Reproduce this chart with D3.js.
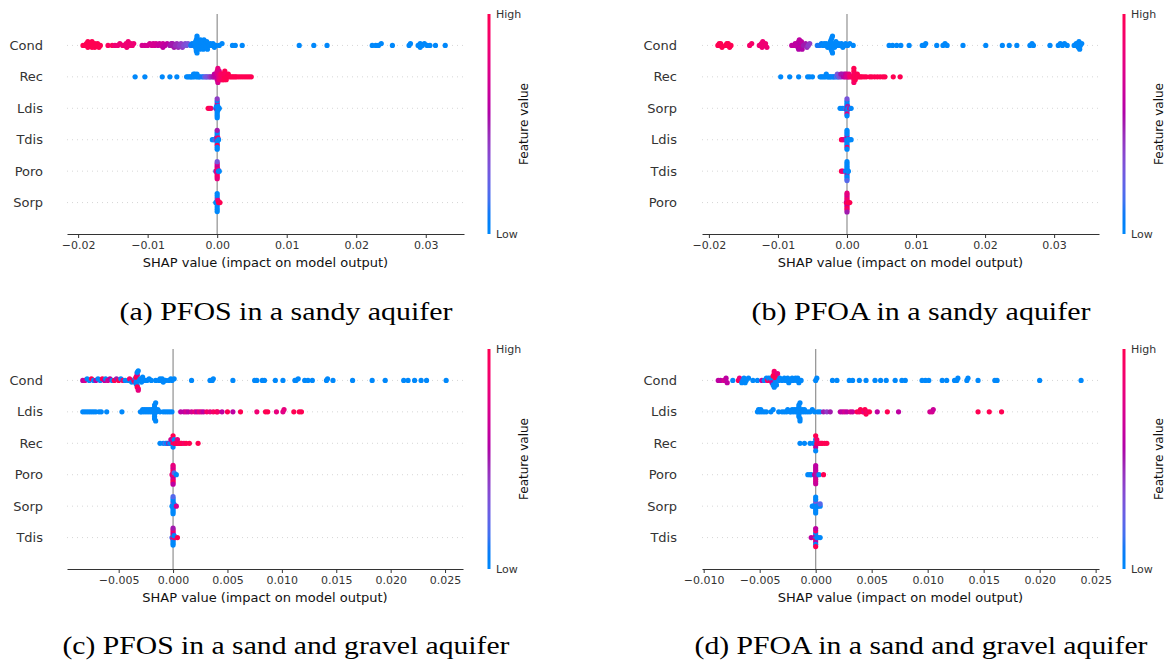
<!DOCTYPE html>
<html>
<head>
<meta charset="utf-8">
<script src="https://cdn.jsdelivr.net/npm/d3@7"></script>
<style>
  body { margin: 0; background: #fff; }
  svg { display: block; font-family: 'DejaVu Sans', sans-serif; }
</style>
</head>
<body>
<div id="chart"></div>
<script>
// SHAP summary (beeswarm) plots, four panels
// each point: [shap value, normalised feature value (0 = low, 1 = high)]

const featuresA = ['Cond', 'Rec', 'Ldis', 'Tdis', 'Poro', 'Sorp'];
const featuresB = ['Cond', 'Rec', 'Sorp', 'Ldis', 'Tdis', 'Poro'];
const featuresC = ['Cond', 'Ldis', 'Rec', 'Poro', 'Sorp', 'Tdis'];
const featuresD = ['Cond', 'Ldis', 'Rec', 'Poro', 'Sorp', 'Tdis'];

const ticksTop = [-0.02, -0.01, 0, 0.01, 0.02, 0.03];
const ticksC = [-0.005, 0, 0.005, 0.01, 0.015, 0.02, 0.025];
const ticksD = [-0.01, -0.005, 0, 0.005, 0.01, 0.015, 0.02, 0.025];

const captions = [
  '(a) PFOS in a sandy aquifer',
  '(b) PFOA in a sandy aquifer',
  '(c) PFOS in a sand and gravel aquifer',
  '(d) PFOA in a sand and gravel aquifer'
];

// ---- (a) PFOS, sandy aquifer
const condA = [
  [-0.0193,1],[-0.019,1],[-0.0188,1],[-0.0186,1],[-0.0186,1],[-0.0184,1],[-0.0182,1],[-0.018,1],[-0.018,1],[-0.0178,1],
  [-0.0176,1],[-0.0176,1],[-0.0174,1],[-0.0172,1],[-0.017,1],[-0.0168,1],
  [-0.0157,0.95],[-0.0151,0.95],
  [-0.0147,0.85],[-0.0143,0.85],[-0.014,0.85],[-0.0136,0.85],[-0.0133,0.85],[-0.0131,0.85],[-0.013,0.85],[-0.0128,0.85],
  [-0.0126,0.85],[-0.0124,0.85],[-0.0122,0.85],[-0.012,0.85],
  [-0.0108,0.7],[-0.0104,0.7],[-0.01,0.7],[-0.0097,0.7],[-0.0094,0.7],[-0.0092,0.7],[-0.009,0.7],[-0.0088,0.7],
  [-0.0085,0.65],[-0.0083,0.65],[-0.008,0.65],[-0.0078,0.65],[-0.0078,0.6],[-0.0075,0.6],[-0.0072,0.6],
  [-0.0068,0.5],[-0.0066,0.5],[-0.0064,0.5],[-0.0064,0.5],[-0.0062,0.5],[-0.006,0.45],[-0.0058,0.45],[-0.0056,0.45],
  [-0.0054,0.4],[-0.0052,0.4],[-0.005,0.4],[-0.0048,0.35],[-0.0046,0.35],[-0.0044,0.3],[-0.0042,0.3],
  [-0.0038,0.1],[-0.0036,0.05],[-0.0034,0.05],[-0.0032,0],[-0.0031,0],[-0.0031,0],[-0.003,0],[-0.003,0],[-0.003,0],
  [-0.0029,0],[-0.0029,0],[-0.0029,0],[-0.0028,0],[-0.0028,0],[-0.0027,0],[-0.0026,0],[-0.0025,0],[-0.0024,0],
  [-0.0023,0],[-0.0022,0],[-0.0021,0],[-0.002,0],[-0.002,0],[-0.0019,0],[-0.0018,0],[-0.0017,0],[-0.0016,0],
  [-0.0015,0],[-0.0014,0],[-0.0012,0],[-0.001,0],[-0.0008,0],[-0.0006,0],[-0.0004,0],[-0.0002,0],
  [0.0003,0],[0.0007,0],[0.0022,0],[0.0026,0],[0.0036,0],[0.0118,0],[0.0139,0],[0.0158,0],[0.0223,0],[0.0228,0],
  [0.0232,0],[0.0236,0],[0.0252,0],[0.0276,0],[0.0278,0],[0.0289,0],[0.0292,0],[0.0292,0],[0.0295,0],[0.0298,0],
  [0.0302,0],[0.0306,0],[0.0314,0],[0.0328,0]
];
const recA = [
  [-0.0118,0],[-0.0104,0],[-0.0079,0],[-0.0068,0],[-0.0058,0],
  [-0.0044,0],[-0.0042,0],[-0.004,0],[-0.0038,0],[-0.0037,0],[-0.0035,0],[-0.0034,0],[-0.0033,0],[-0.0032,0],
  [-0.003,0],[-0.0029,0],[-0.0028,0],[-0.0026,0],[-0.0025,0],[-0.0022,0.1],[-0.002,0.1],[-0.0018,0.2],[-0.0015,0.2],
  [-0.0016,0.3],[-0.0013,0.3],[-0.0011,0.35],[-0.001,0.4],[-0.0008,0.45],[-0.0006,0.5],[-0.0005,0.5],
  [-0.0004,0.6],[-0.0003,0.6],[-0.0002,0.6],[-0.0001,0.65],[0,0.6],[0,0.7],[0,0.65],[0,0.75],[0.0001,0.7],[0.0001,0.8],
  [0.0002,0.75],[0.0003,0.8],[0.0003,0.85],[0.0003,0.75],[0.0004,0.8],[0.0005,0.85],[0.0005,0.9],[0.0006,0.9],
  [0.0007,0.9],[0.0007,0.95],[0.0008,0.95],[0.0009,0.9],[0.001,1],[0.001,0.95],[0.001,1],[0.0011,1],[0.0012,1],
  [0.0012,0.95],[0.0013,1],[0.0014,1],[0.0015,1],[0.0016,1],[0.0018,1],[0.002,1],
  [0.0022,1],[0.0024,1],[0.0026,1],[0.0028,1],[0.0031,1],[0.0034,1],[0.0037,1],[0.004,1],[0.0043,1],[0.0046,1],[0.0049,1]
];
const ldisA = [
  [-0.0013,1],[-0.0011,1],[-0.0009,0.9],[-0.0002,0.1],[-0.0001,0.6],[-0.0001,0],[0,0],[0,0],[0,0.5],[0,0],[0,0],
  [0,0.7],[0,0],[0,0],[0,0],[0,0.4],[0,0],[0.0001,0],[0.0001,0],[0.0001,0],[0.0002,0],[0.0003,0]
];
const tdisA = [
  [-0.0007,0],[-0.0005,0],[-0.0003,0.2],[-0.0001,0.8],[-0.0001,0],[0,0],[0,1],[0,0],[0,0.6],[0,0],[0,0],[0,1],
  [0,0],[0,0],[0,0.5],[0,0],[0.0001,0],[0.0001,0.9],[0.0002,0]
];
const poroA = [
  [-0.0002,0.2],[-0.0001,0.8],[0,0.8],[0,0.9],[0,0.7],[0,1],[0,0.8],[0,0.6],[0,0.9],[0,0.7],[0,0.8],[0,0.3],
  [0.0001,0.5],[0.0001,0.8],[0.0002,0],[0.0003,0]
];
const sorpA = [
  [-0.0002,0],[-0.0001,0],[0,0],[0,0],[0,0],[0,0.4],[0,0],[0,0],[0,0],[0,0],[0,0],[0.0001,0],[0.0001,0.8],
  [0.0002,1],[0.0004,1]
];

// ---- (b) PFOA, sandy aquifer
const condB = [
  [-0.0187,1],[-0.0185,1],[-0.0183,1],[-0.0183,1],[-0.0181,1],[-0.0176,1],[-0.0174,1],[-0.0172,1],[-0.0172,1],[-0.017,1],[-0.0168,1],
  [-0.0141,0.9],[-0.0138,0.9],
  [-0.0127,0.85],[-0.0125,0.85],[-0.0124,0.85],[-0.0123,0.85],[-0.0122,0.85],[-0.012,0.85],[-0.0118,0.85],[-0.0116,0.85],
  [-0.008,0.6],[-0.0077,0.6],[-0.0075,0.6],[-0.0073,0.6],[-0.0072,0.6],[-0.0071,0.6],[-0.007,0.6],[-0.007,0.55],
  [-0.0069,0.6],[-0.0068,0.6],[-0.0068,0.55],[-0.0067,0.6],[-0.0066,0.6],[-0.0065,0.55],[-0.0063,0.5],[-0.006,0.5],
  [-0.0058,0.45],[-0.0056,0.4],[-0.0054,0.4],
  [-0.0043,0.1],[-0.004,0.1],[-0.0037,0.05],[-0.0035,0],[-0.0033,0],[-0.0031,0],[-0.003,0],[-0.0028,0],[-0.0026,0],
  [-0.0025,0],[-0.0024,0],[-0.0024,0],[-0.0023,0],[-0.0023,0],[-0.0022,0],[-0.0022,0],[-0.0021,0],[-0.0021,0],
  [-0.002,0],[-0.0019,0],[-0.0018,0],[-0.0016,0],[-0.0014,0],[-0.0012,0],[-0.001,0],[-0.0008,0],[-0.0006,0],
  [-0.0004,0],[-0.0002,0],[0.0001,0],[0.0004,0],[0.0009,0],
  [0.0061,0],[0.0066,0],[0.0072,0],[0.0078,0],[0.009,0],[0.0109,0],[0.0112,0],[0.0114,0],[0.013,0],[0.0139,0],
  [0.0142,0],[0.0145,0],[0.0168,0],[0.0201,0],[0.0225,0],[0.0235,0],[0.0246,0],[0.0265,0],[0.0268,0],[0.027,0],
  [0.0294,0],[0.0306,0],[0.0309,0],[0.0312,0],[0.0315,0],[0.0319,0],[0.0329,0],[0.0332,0],[0.0333,0],[0.0334,0],
  [0.0335,0],[0.0336,0],[0.0337,0],[0.0338,0],[0.034,0]
];
const recB = [
  [-0.0096,0],[-0.0083,0],[-0.007,0],[-0.0057,0],[-0.0054,0],[-0.005,0],[-0.0039,0],[-0.0037,0],[-0.0035,0],
  [-0.0033,0],[-0.0031,0],[-0.003,0],[-0.0028,0],[-0.0027,0],[-0.0025,0],[-0.0024,0],[-0.0022,0],[-0.002,0.1],
  [-0.0019,0],[-0.0017,0.1],[-0.0015,0.2],[-0.0013,0],[-0.0014,0.3],[-0.0012,0.3],[-0.001,0.35],[-0.0008,0.4],
  [-0.0009,0.5],[-0.0007,0.5],[-0.0005,0.55],[-0.0004,0.5],[-0.0003,0.6],[-0.0002,0.6],
  [-0.0001,0.7],[0,0.7],[0.0001,0.75],[0.0002,0.7],[0.0003,0.8],
  [0.0004,0.9],[0.0006,0.9],[0.0008,0.95],[0.0009,0.95],[0.001,1],[0.001,0.95],[0.001,1],[0.001,0.9],[0.001,1],
  [0.0011,1],[0.0011,0.95],[0.0012,1],[0.0013,0.95],[0.0014,1],[0.0015,1],[0.0016,0.95],[0.0018,1],[0.002,1],
  [0.0022,1],[0.0025,1],[0.0028,1],
  [0.0033,1],[0.0036,1],[0.004,1],[0.0044,1],[0.0048,1],[0.0052,1],[0.0055,1],[0.0067,1],[0.0077,1]
];
const sorpB = [
  [-0.001,0],[-0.0007,0],[-0.0004,0],[-0.0002,0.2],[-0.0001,0],[0,0],[0,0],[0,0.6],[0,0],[0,0],[0,0],[0,0.8],
  [0,0],[0,0],[0,0.3],[0.0001,0],[0.0001,0.5],[0.0002,0],[0.0004,0.7],[0.0006,0]
];
const ldisB = [
  [-0.0008,1],[-0.0006,0.9],[-0.0003,0.7],[-0.0001,0.8],[0,0],[0,0],[0,0],[0,0.6],[0,0],[0,0],[0,0],[0,0],
  [0,0.9],[0,0],[0,0],[0.0001,0],[0.0002,0],[0.0004,0],[0.0006,0]
];
const tdisB = [
  [-0.0008,1],[-0.0006,0.8],[-0.0002,0],[-0.0001,0],[0,0],[0,0],[0,0],[0,0],[0,0.5],[0,0],[0,0],[0,0],[0,0],
  [0,0],[0,0.2],[0.0001,0],[0.0002,0]
];
const poroB = [
  [-0.0001,0.8],[0,0.9],[0,0.7],[0,1],[0,0.8],[0,0.6],[0,0.9],[0,1],[0,0.7],[0,0.85],[0,0.8],[0,0.5],
  [0.0001,0.9],[0.0002,1],[0.0004,1]
];

// ---- (c) PFOS, sand and gravel aquifer
const condC = [
  [-0.0083,0.6],[-0.0081,0.7],[-0.0079,0],[-0.0077,0],[-0.0075,1],[-0.0073,0],[-0.0071,0.6],[-0.0069,0],[-0.0067,0],
  [-0.0065,1],[-0.0063,0.6],[-0.0062,0],[-0.006,0.7],[-0.0058,0.6],[-0.0056,0],[-0.0054,1],[-0.0052,0.5],[-0.005,1],
  [-0.0048,0],[-0.0046,0.9],[-0.0044,0],
  [-0.0041,0],[-0.004,0.9],[-0.0038,0],[-0.0036,1],[-0.0035,0],[-0.0035,0.9],[-0.0034,1],[-0.0034,0.3],[-0.0034,0],
  [-0.0034,1],[-0.0034,0],[-0.0033,1],[-0.0033,0],[-0.0033,0.7],[-0.0033,1],[-0.0033,0],[-0.0032,1],[-0.0032,0],
  [-0.0032,0.8],[-0.0031,0],[-0.003,0],[-0.0029,0],[-0.0028,0],
  [-0.0026,0],[-0.0024,0],[-0.0022,0],[-0.002,0],[-0.0016,0],[-0.0013,0],[-0.0012,0],[-0.0011,0],[-0.001,0],
  [-0.0009,0],[-0.0007,0],[-0.0004,0],[-0.0002,0],[-0.0001,0],[0.0001,0],[0.0017,0],[0.0034,0],[0.0036,0],
  [0.0037,0],[0.0055,0],[0.0075,0],[0.0077,0],[0.0082,0],[0.0084,0],[0.0094,0],[0.0101,0],[0.0112,0],[0.0113,0],
  [0.0115,0],[0.0121,0],[0.0124,0],[0.0128,0],[0.0141,0],[0.0142,0],[0.0147,0],[0.0165,0],[0.0183,0],[0.0195,0],
  [0.0212,0],[0.0216,0],[0.0222,0],[0.0228,0],[0.0233,0],[0.0251,0]
];
const ldisC = [
  [-0.0083,0],[-0.0081,0],[-0.0079,0],[-0.0077,0],[-0.0075,0],[-0.0073,0],[-0.0071,0],[-0.0068,0],[-0.0066,0],
  [-0.0061,0],[-0.0047,0],
  [-0.003,0],[-0.0029,0],[-0.0028,0],[-0.0027,0],[-0.0026,0],[-0.0025,0],[-0.0024,0],[-0.0023,0],[-0.0022,0],
  [-0.0021,0],[-0.002,0],[-0.0019,0],[-0.0018,0],[-0.0017,0],[-0.0017,0],[-0.0017,0],[-0.0017,0],[-0.0017,0],
  [-0.0017,0],[-0.0017,0],[-0.0016,0],[-0.0016,0],[-0.0015,0],[-0.0014,0],[-0.0012,0],[-0.0009,0],[-0.0007,0],
  [-0.0005,0],[-0.0003,0],[-0.0001,0],
  [0.0007,0.6],[0.001,0.6],[0.0012,0.7],[0.0014,0.6],[0.0017,0.7],[0.002,0.8],[0.0022,0.6],[0.0024,0.8],[0.0026,0.7],
  [0.0028,0.6],[0.0031,0.9],[0.0034,0.8],[0.0037,0.9],[0.004,1],[0.0041,0.9],[0.0045,0.6],[0.005,1],[0.0055,0.6],
  [0.0062,1],[0.0077,0.85],[0.0085,1],[0.0087,1],[0.0095,0.8],[0.0101,0.75],[0.0102,0.8],[0.0111,1],[0.0116,1],[0.0118,1]
];
const recC = [
  [-0.0012,0],[-0.0009,0],[-0.0007,0.2],[-0.0006,0],[-0.0005,0],[-0.0004,0.5],[-0.0003,0],[-0.0002,0],[-0.0002,0.7],
  [-0.0001,0],[-0.0001,0.6],[0,1],[0,0.8],[0,0],[0,1],[0.0001,0.9],[0.0001,0],[0.0002,1],[0.0003,0.9],[0.0004,1],
  [0.0004,0.8],[0.0005,1],[0.0006,0.9],[0.0007,1],[0.0008,1],[0.001,0.9],[0.0012,1],[0.0015,1],[0.0023,1]
];
const poroC = [
  [-0.0001,0.8],[0,0.9],[0,0.7],[0,0.8],[0,1],[0,0.6],[0,0.9],[0,0.8],[0,0.7],[0,1],[0,0.8],[0,0.6],
  [0.0001,0.9],[0.0001,0.2],[0.0003,0]
];
const sorpC = [
  [-0.0001,0],[0,0],[0,0],[0,0],[0,0.3],[0,0],[0,0],[0,0],[0,0],[0,0],[0,0.2],[0.0001,0],[0.0001,0],[0.0003,0.7]
];
const tdisC = [
  [-0.0001,0.2],[0,0.7],[0,0],[0,0.8],[0,1],[0,0],[0,0.6],[0,0],[0,0.9],[0,0],[0,0.5],[0.0001,0.9],[0.0001,0],[0.0004,1]
];

// ---- (d) PFOA, sand and gravel aquifer
const condD = [
  [-0.0087,0.6],[-0.0085,0.6],[-0.0082,0.7],[-0.008,0.6],[-0.0079,0.6],[-0.0074,0],[-0.0069,1],[-0.0068,0.8],
  [-0.0066,0],[-0.0065,0],[-0.0064,0],[-0.0063,0],[-0.0062,0],[-0.006,0],[-0.0056,0],[-0.0052,0],[-0.0048,0.6],[-0.0046,0],
  [-0.0044,0],[-0.0043,0.9],[-0.0042,0],[-0.004,1],[-0.004,0],[-0.0039,0.6],[-0.0038,1],[-0.0038,0],[-0.0037,1],
  [-0.0037,0],[-0.0037,0.9],[-0.0036,0],[-0.0036,1],[-0.0036,0],[-0.0035,1],[-0.0035,0],[-0.0034,0.8],[-0.0033,0],
  [-0.0032,0],[-0.003,0],[-0.0028,0],
  [-0.0027,0],[-0.0025,0],[-0.0024,0],[-0.0022,0],[-0.0021,0],[-0.002,0],[-0.0018,0],[-0.0017,0],[-0.0016,0],
  [-0.0015,0],[-0.0013,0],[0,0],[0.0001,0],[0.0015,0],[0.0019,0],[0.003,0],[0.0033,0],[0.0039,0],[0.0045,0],
  [0.0053,0],[0.0058,0],[0.0063,0],[0.0071,0],[0.0077,0],[0.008,0],[0.0095,0],[0.0098,0],[0.0101,0],[0.0113,0],
  [0.0117,0],[0.0124,0],[0.0126,0],[0.0127,0],[0.0135,0],[0.0136,0],[0.0145,0],[0.016,0],[0.0162,0],[0.02,0],[0.0237,0]
];
const ldisD = [
  [-0.0052,0],[-0.0051,0],[-0.005,0],[-0.0049,0],[-0.0048,0],[-0.0046,0],[-0.0044,0],[-0.004,0],[-0.0038,0],
  [-0.0033,0],[-0.003,0],[-0.0028,0],[-0.0026,0],[-0.0025,0],[-0.0023,0],[-0.0022,0],[-0.0021,0],[-0.002,0],
  [-0.0019,0],[-0.0018,0],[-0.0017,0],[-0.0016,0],[-0.0016,0],[-0.0015,0],[-0.0015,0],[-0.0015,0],[-0.0015,0],
  [-0.0014,0],[-0.0014,0],[-0.0014,0],[-0.0013,0],[-0.0012,0],[-0.0011,0],[-0.001,0],[-0.0009,0],[-0.0007,0],
  [-0.0005,0],[-0.0003,0],[-0.0001,0],[0.0002,0],[0.0004,0],
  [0.0007,0.5],[0.001,0.4],[0.0013,0.5],[0.0022,0.6],[0.0024,0.6],[0.0026,0.7],[0.0028,0.6],[0.0031,0.7],
  [0.0033,0.65],[0.0037,1],[0.0039,0.9],[0.004,1],[0.0042,1],[0.0043,0.8],[0.0044,1],[0.0045,1],[0.0046,0.9],
  [0.0048,1],[0.0055,0.6],[0.0064,1],[0.0074,0.6],[0.0102,0.7],[0.0104,0.7],[0.0105,0.65],[0.0145,1],[0.0155,1],[0.0166,1]
];
const recD = [
  [-0.0014,0],[-0.001,0],[-0.0005,0],[-0.0002,0],[-0.0001,0],[0,0],[0,0],[0,0.6],[0,1],[0,0],[0.0001,1],
  [0.0001,0.9],[0.0002,1],[0.0003,0.8],[0.0004,1],[0.0005,0.9],[0.0006,1],[0.0008,1],[0.001,1]
];
const poroD = [
  [-0.0007,0],[-0.0005,0],[-0.0004,0],[-0.0001,0.6],[0,0.6],[0,0.7],[0,0.6],[0,0.65],[0,0.7],[0,0.6],[0,0.7],
  [0,0.6],[0,0.65],[0.0001,0.5],[0.0003,0],[0.0007,1]
];
const sorpD = [
  [-0.0003,0],[-0.0002,0],[-0.0001,0],[0,0],[0,0],[0,0],[0,0.3],[0,0],[0,0],[0,0],[0,0],[0.0001,0],[0.0002,0],
  [0.0004,0],[0.0004,0.2]
];
const tdisD = [
  [-0.0004,0.6],[-0.0001,0.6],[0,0],[0,0.7],[0,1],[0,0],[0,0.6],[0,0.9],[0,0],[0,0.6],[0,1],[0.0001,0],[0.0002,0],[0.0004,0]
];

// panel layout
const panels = [
  { features: featuresA, rows: [condA, recA, ldisA, tdisA, poroA, sorpA], ticks: ticksTop, fmt: '.2f',
    domain: [-0.0216, 0.0355], x0: 67, x1: 464, top: 14, axisY: 234, labelX: 43, cbX: 489, caption: captions[0], capX: 286, capY: 320, capW: 333 },
  { features: featuresB, rows: [condB, recB, sorpB, ldisB, tdisB, poroB], ticks: ticksTop, fmt: '.2f',
    domain: [-0.021, 0.0365], x0: 702, x1: 1099, top: 14, axisY: 234, labelX: 677, cbX: 1124, caption: captions[1], capX: 921, capY: 320, capW: 339 },
  { features: featuresC, rows: [condC, ldisC, recC, poroC, sorpC, tdisC], ticks: ticksC, fmt: '.3f',
    domain: [-0.00975, 0.02665], x0: 67, x1: 463, top: 349, axisY: 569, labelX: 43, cbX: 489, caption: captions[2], capX: 286, capY: 654, capW: 447 },
  { features: featuresD, rows: [condD, ldisD, recD, poroD, sorpD, tdisD], ticks: ticksD, fmt: '.3f',
    domain: [-0.01015, 0.0253], x0: 702, x1: 1099, top: 349, axisY: 569, labelX: 677, cbX: 1124, caption: captions[3], capX: 921, capY: 654, capW: 453 }
];

// shap's red/blue map: hue and chroma run linearly, lightness dips to 40 in the middle
function colour(t) {
  const h = 266.93 + 113.39 * t;
  const c = 70 + 20 * t;
  const l = t < 0.5 ? 54 - 28 * t : 40 + 28 * (t - 0.5);
  return d3.rgb(d3.hcl(h, c, l)).formatHex();
}

// shap-style vertical jitter: stack points sharing a quantised bin
function swarm(points) {
  const vals = points.map(p => p[0]);
  const lo = d3.min(vals), hi = d3.max(vals);
  const nbins = 100;
  const quant = vals.map(v => Math.round(nbins * (v - lo) / (hi - lo + 1e-8)));
  const order = d3.range(vals.length).sort((a, b) => quant[a] - quant[b] || a - b);
  const ys = new Array(vals.length).fill(0);
  let layer = 0, last = -1;
  order.forEach(i => {
    if (quant[i] !== last) layer = 0;
    ys[i] = Math.ceil(layer / 2) * ((layer % 2) * 2 - 1);
    layer++;
    last = quant[i];
  });
  const m = d3.max(ys, y => y + 1);
  return ys.map(y => y * 0.9 * (0.4 / m));
}

const svg = d3.select('#chart').append('svg')
  .attr('width', 1170)
  .attr('height', 663);

const defs = svg.append('defs');
const grad = defs.append('linearGradient')
  .attr('id', 'cb-grad')
  .attr('x1', 0).attr('x2', 0).attr('y1', 1).attr('y2', 0);
grad.selectAll('stop')
  .data(d3.range(0, 1.0001, 0.05))
  .enter().append('stop')
  .attr('offset', d => `${d * 100}%`)
  .attr('stop-color', d => colour(d));

panels.forEach(p => {
  const g = svg.append('g');
  const n = p.features.length;
  const x = d3.scaleLinear().domain(p.domain).range([p.x0, p.x1]);
  const y = d3.scaleLinear().domain([-1, n]).range([p.axisY, p.top]);

  // dotted row guides
  p.features.forEach((f, i) => {
    g.append('line')
      .attr('x1', p.x0).attr('x2', p.x1)
      .attr('y1', y(n - 1 - i)).attr('y2', y(n - 1 - i))
      .attr('stroke', '#cccccc')
      .attr('stroke-width', 0.8)
      .attr('stroke-dasharray', '1,4');
  });

  // zero line
  g.append('line')
    .attr('x1', x(0)).attr('x2', x(0))
    .attr('y1', p.top).attr('y2', p.axisY)
    .attr('stroke', '#999999')
    .attr('stroke-width', 1.3);

  // beeswarm points
  p.rows.forEach((pts, i) => {
    const base = n - 1 - i;
    const offs = swarm(pts);
    g.append('g').selectAll('circle')
      .data(pts)
      .enter().append('circle')
      .attr('cx', d => x(d[0]))
      .attr('cy', (d, k) => y(base + offs[k]))
      .attr('r', 2.6)
      .attr('fill', d => colour(d[1]));
  });

  // feature names
  g.selectAll('.flab')
    .data(p.features)
    .enter().append('text')
    .attr('x', p.labelX)
    .attr('y', (d, i) => y(n - 1 - i))
    .attr('dy', '0.35em')
    .attr('text-anchor', 'end')
    .attr('fill', '#333')
    .style('font-size', '13px')
    .text(d => d);

  // x axis
  const ax = g.append('g')
    .attr('transform', `translate(0,${p.axisY})`)
    .call(d3.axisBottom(x).tickValues(p.ticks).tickFormat(d3.format(p.fmt)).tickSize(4).tickSizeOuter(0));
  ax.attr('font-family', null).attr('font-size', null);
  ax.select('.domain').attr('stroke', '#333');
  ax.selectAll('.tick line').attr('stroke', '#333');
  ax.selectAll('.tick text').attr('fill', '#333').style('font-size', '11px');

  g.append('text')
    .attr('x', (p.x0 + p.x1) / 2)
    .attr('y', p.axisY + 32.5)
    .attr('text-anchor', 'middle')
    .attr('fill', '#111')
    .style('font-size', '13px')
    .text('SHAP value (impact on model output)');

  // colour bar
  g.append('rect')
    .attr('x', p.cbX - 1.5)
    .attr('y', p.top)
    .attr('width', 3)
    .attr('height', p.axisY - p.top)
    .attr('fill', 'url(#cb-grad)');
  g.append('text')
    .attr('x', p.cbX + 7).attr('y', p.top).attr('dy', '0.35em')
    .attr('fill', '#333').style('font-size', '11px')
    .text('High');
  g.append('text')
    .attr('x', p.cbX + 7).attr('y', p.axisY).attr('dy', '0.35em')
    .attr('fill', '#333').style('font-size', '11px')
    .text('Low');
  g.append('text')
    .attr('transform', `translate(${p.cbX + 35},${(p.top + p.axisY) / 2}) rotate(-90)`)
    .attr('text-anchor', 'middle')
    .attr('dy', '0.35em')
    .attr('fill', '#111')
    .style('font-size', '12px')
    .text('Feature value');

  // caption
  svg.append('text')
    .attr('x', p.capX)
    .attr('y', p.capY)
    .attr('text-anchor', 'middle')
    .attr('textLength', p.capW)
    .attr('lengthAdjust', 'spacingAndGlyphs')
    .attr('fill', '#000')
    .style('font-family', "'Liberation Serif', serif")
    .style('font-size', '26px')
    .text(p.caption);
});
</script>
</body>
</html>
